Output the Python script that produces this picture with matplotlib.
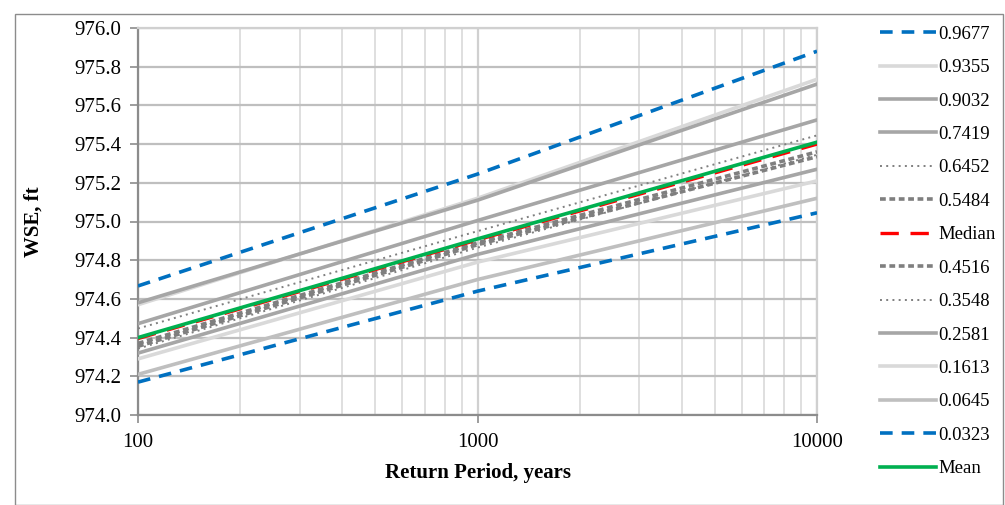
import matplotlib
matplotlib.use("Agg")
import matplotlib.pyplot as plt
from matplotlib.patches import Rectangle
from matplotlib.ticker import FixedLocator, LogLocator, NullFormatter

plt.rcParams['font.family'] = ['Liberation Serif', 'DejaVu Serif']

return_period = [100, 1000, 10000]

labels = ["0.9677", "0.9355", "0.9032", "0.7419", "0.6452", "0.5484", "Median",
          "0.4516", "0.3548", "0.2581", "0.1613", "0.0645", "0.0323", "Mean"]

q9677 = [974.667, 975.245, 975.880]
q9355 = [974.570, 975.120, 975.735]
q9032 = [974.580, 975.110, 975.710]
q7419 = [974.472, 975.005, 975.525]
q6452 = [974.447, 974.950, 975.445]
q5484 = [974.370, 974.890, 975.360]
median = [974.395, 974.905, 975.400]
q4516 = [974.355, 974.880, 975.335]
q3548 = [974.343, 974.865, 975.345]
q2581 = [974.320, 974.830, 975.270]
q1613 = [974.290, 974.790, 975.210]
q0645 = [974.210, 974.700, 975.120]
q0323 = [974.170, 974.640, 975.045]
mean = [974.400, 974.910, 975.410]

series = [q9677, q9355, q9032, q7419, q6452, q5484, median,
          q4516, q3548, q2581, q1613, q0645, q0323, mean]

blue = "#0070C0"
styles = [
    dict(color=blue, lw=2.6, ls=(0, (3.5, 2.5))),
    dict(color="#D9D9D9", lw=2.6, ls="-"),
    dict(color="#A6A6A6", lw=2.6, ls="-"),
    dict(color="#A6A6A6", lw=2.6, ls="-"),
    dict(color="#7F7F7F", lw=1.4, ls=(0, (1, 2.2))),
    dict(color="#7F7F7F", lw=2.6, ls=(0, (1.6, 1.0))),
    dict(color="#FF0000", lw=2.4, ls=(0, (5.5, 3.5))),
    dict(color="#7F7F7F", lw=2.6, ls=(0, (1.6, 1.0))),
    dict(color="#7F7F7F", lw=1.4, ls=(0, (1, 2.2))),
    dict(color="#A6A6A6", lw=2.6, ls="-"),
    dict(color="#D9D9D9", lw=2.6, ls="-"),
    dict(color="#BFBFBF", lw=2.6, ls="-"),
    dict(color=blue, lw=2.6, ls=(0, (3.5, 2.5))),
    dict(color="#00B050", lw=2.6, ls="-"),
]

W, H = 1005, 505
fig = plt.figure(figsize=(W / 100, H / 100), dpi=100)
ax = fig.add_axes([138 / W, 1 - 415 / H, (817 - 138) / W, (415 - 28) / H])

# outer frame
fig.patches.append(Rectangle((15 / W, 0), (1003 - 15) / W, 1 - 14 / H,
                             transform=fig.transFigure, fill=False,
                             edgecolor="#8C8C8C", lw=1.0))

handles = []
for y, lab, st in zip(series, labels, styles):
    h, = ax.plot(return_period, y, label=lab, zorder=3, **st)
    handles.append(h)

ax.set_xscale("log")
ax.set_xlim(100, 10000)
ax.set_ylim(974.0, 976.0)
ax.xaxis.set_major_locator(FixedLocator([100, 1000, 10000]))
ax.xaxis.set_minor_locator(LogLocator(base=10, subs=range(2, 10)))
ax.xaxis.set_minor_formatter(NullFormatter())
ax.set_xticklabels(["100", "1000", "10000"])
yt = [974.0 + 0.2 * i for i in range(11)]
ax.set_yticks(yt)
ax.set_yticklabels([f"{v:.1f}" for v in yt])

ax.grid(True, which="major", axis="y", color="#BFBFBF", lw=1.6, zorder=0)
ax.grid(True, which="major", axis="x", color="#D0D0D0", lw=1.6, zorder=0)
ax.grid(True, which="minor", axis="x", color="#D9D9D9", lw=1.2, zorder=0)

for s in ["top", "right"]:
    ax.spines[s].set_color("#D0D0D0")
    ax.spines[s].set_linewidth(1.6)
for s in ["left", "bottom"]:
    ax.spines[s].set_color("#8C8C8C")
    ax.spines[s].set_linewidth(1.6)

ax.tick_params(axis="both", which="major", labelsize=15, color="#8C8C8C",
               length=6, width=1.2)
ax.tick_params(axis="x", which="major", pad=7)
ax.tick_params(axis="y", which="major", pad=6)
ax.tick_params(axis="x", which="minor", length=0)

ax.set_xlabel("Return Period, years", fontsize=15, fontweight="bold", labelpad=8)
ax.set_ylabel("WSE, ft", fontsize=15, fontweight="bold", labelpad=22)

fig.legend(handles=handles, labels=labels, loc="upper left",
           bbox_to_anchor=(872 / W, 1 - 18 / H), frameon=False,
           fontsize=13.5, handlelength=3.0, handletextpad=0.15,
           labelspacing=0.87, borderaxespad=0)

fig.savefig("out.png", dpi=100)
